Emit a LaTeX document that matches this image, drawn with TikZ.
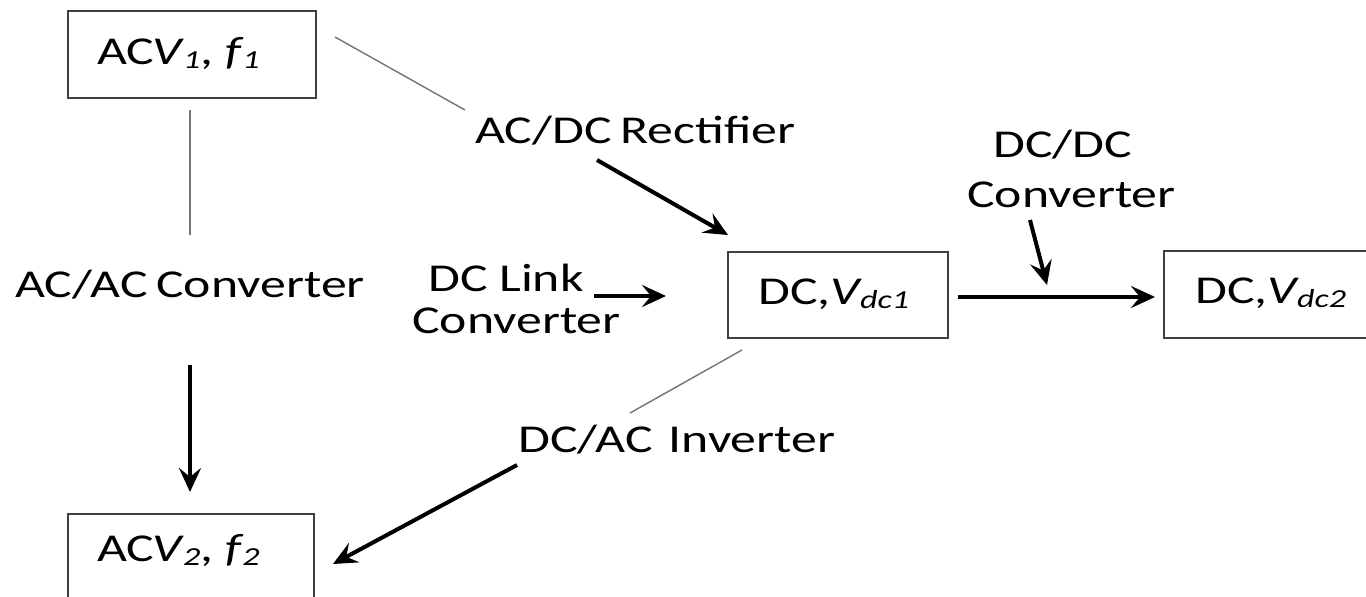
\documentclass[tikz,border=0pt]{standalone}
\usepackage{fontspec}
\setmainfont{Carlito}[FakeStretch=1.31]
\usetikzlibrary{arrows.meta}
\newcommand\lowsub[1]{\raisebox{-0.22ex}{\fontsize{26}{26}\selectfont\itshape #1}}
\begin{document}
\begin{tikzpicture}[x=1pt,y=-1pt,
  font=\fontsize{39.5}{48}\selectfont,
  box/.style={draw=black!75, line width=1.6pt, inner sep=0, anchor=north west},
  lbl/.style={inner sep=0, anchor=base west},
  thinline/.style={draw=black!55, line width=1.4pt},
  bigarrow/.style={draw=black, line width=4pt, -{Stealth[length=24pt,width=22pt,inset=9pt]}}]
\useasboundingbox (0,0) rectangle (1366,597);
\clip (0,0) rectangle (1366,597);
% boxes
\node[box, minimum width=248pt, minimum height=87pt] (ac1) at (67,10) {};
\node[box, minimum width=246pt, minimum height=100pt] (ac2) at (67,513) {};
\node[box, minimum width=220pt, minimum height=86pt] (dc1) at (727,251) {};
\node[box, minimum width=240pt, minimum height=87pt] (dc2) at (1163,250) {};
% box texts
\node[lbl] (ac1t) at (97,64) {AC\kern-2pt\textit{V}\kern-1pt\lowsub{1}, \textit{f}\kern-1pt\lowsub{1}};
\node[lbl] (ac2t) at (97,561) {AC\kern-2pt\textit{V}\kern-1pt\lowsub{2}, \textit{f}\kern-1pt\lowsub{2}};
\node[lbl] (dc1t) at (758,304) {DC,\textit{V}\kern-2pt\lowsub{dc1}};
\node[lbl] (dc2t) at (1195,303) {DC,\textit{V}\kern-2pt\lowsub{dc2}};
% labels
\node[lbl] (rect) at (475,143) {AC/DC\kern-3pt\ Rectifier};
\node[lbl] (dcdc1) at (993,157) {DC/DC};
\node[lbl] (dcdc2) at (967,207) {Converter};
\node[lbl] (acac) at (15,297) {AC/AC\kern-3pt\ Converter};
\node[lbl] (link1) at (428,291) {DC Link};
\node[lbl] (link2) at (412,333) {Converter};
\node[lbl] (inv) at (518,452) {DC/AC\kern4pt\ Inverter};
% coordinates
\coordinate (r1) at (335,37);
\coordinate (r2) at (465,110);
\coordinate (r3) at (597,160);
\coordinate (r4) at (728,235);
\coordinate (a1) at (190,110);
\coordinate (a2) at (190,235);
\coordinate (a3) at (190,365);
\coordinate (a4) at (190,492);
\coordinate (l1) at (594,296);
\coordinate (l2) at (666,296);
\coordinate (i1) at (742,350);
\coordinate (i2) at (630,413);
\coordinate (i3) at (517,465);
\coordinate (i4) at (333,564);
\coordinate (d1) at (1030,220);
\coordinate (d2) at (1047,285);
\coordinate (e1) at (958,297);
\coordinate (e2) at (1155,297);
% connectors
\draw[thinline] (r1) -- (r2);
\draw[bigarrow] (r3) -- (r4);
\draw[thinline] (a1) -- (a2);
\draw[bigarrow] (a3) -- (a4);
\draw[bigarrow] (l1) -- (l2);
\draw[thinline] (i1) -- (i2);
\draw[bigarrow] (i3) -- (i4);
\draw[bigarrow] (d1) -- (d2);
\draw[bigarrow] (e1) -- (e2);
\end{tikzpicture}
\end{document}
